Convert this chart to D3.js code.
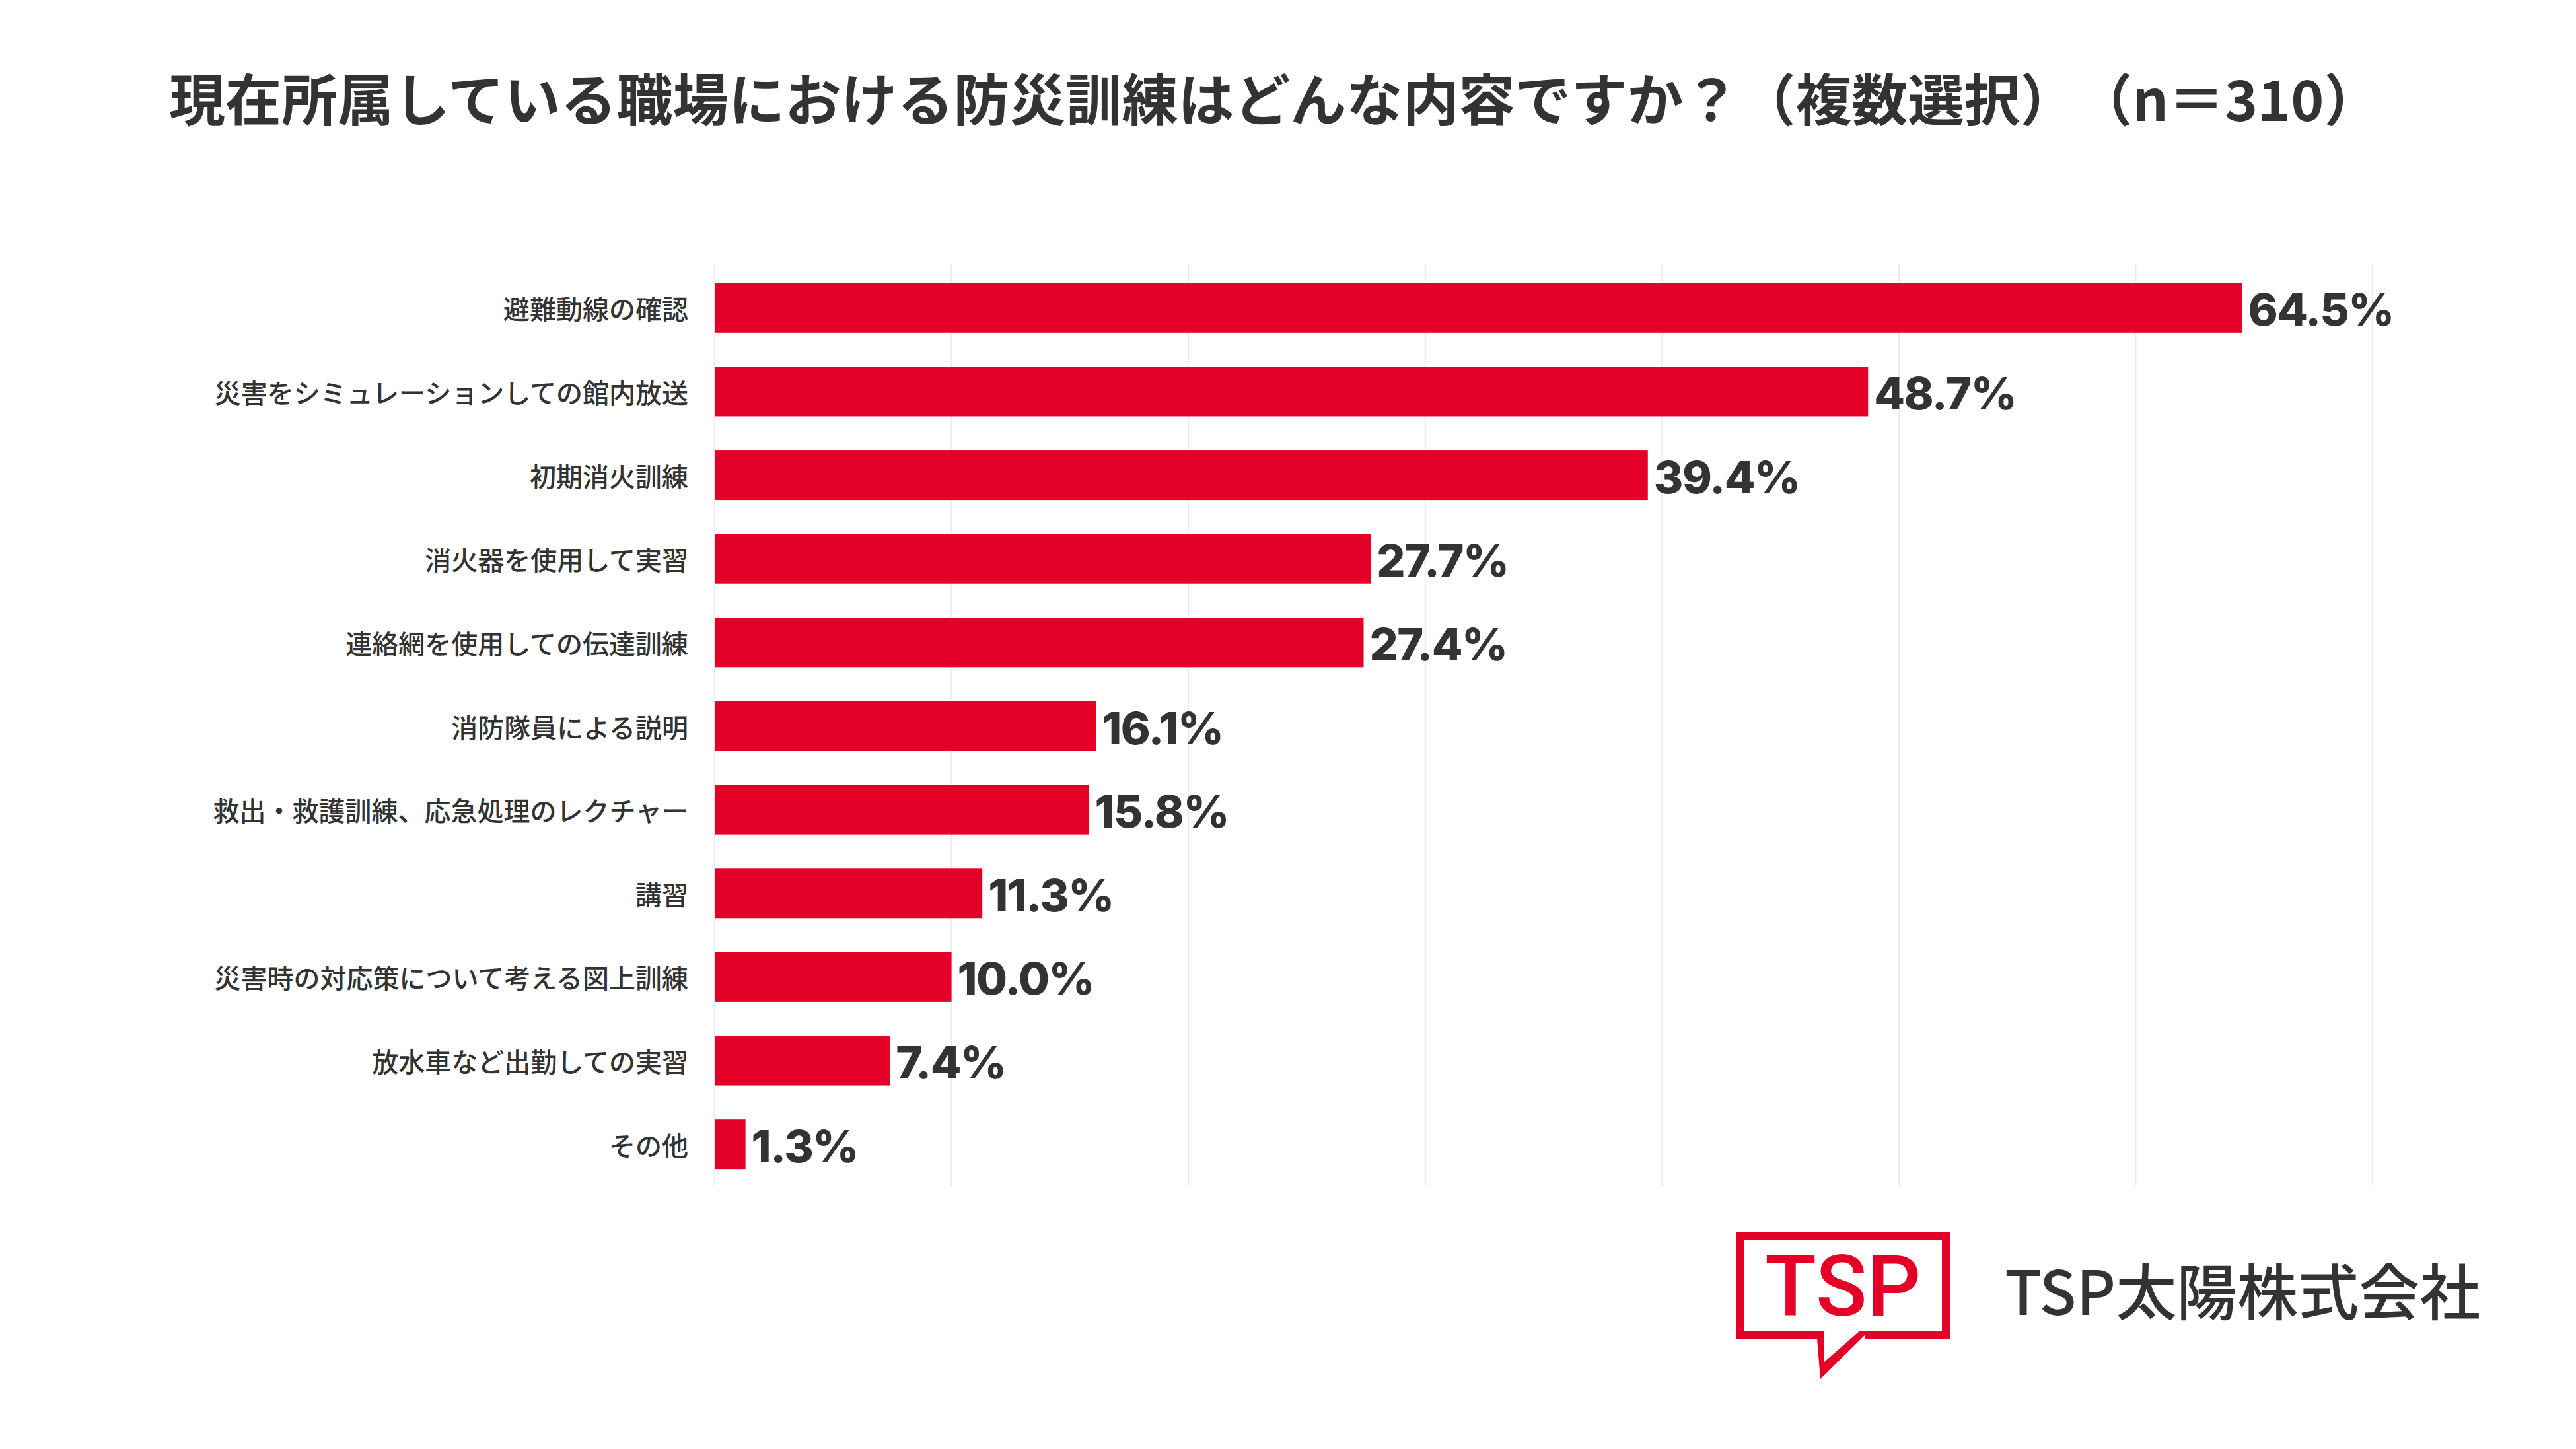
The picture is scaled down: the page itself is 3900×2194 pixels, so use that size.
<!DOCTYPE html>
<meta charset="utf-8">
<style>
body { margin: 0; background: #fff; }
</style>
<body>
<script src="https://cdn.jsdelivr.net/npm/d3@7"></script>
<script>

var categories = [
  "避難動線の確認",
  "災害をシミュレーションしての館内放送",
  "初期消火訓練",
  "消火器を使用して実習",
  "連絡網を使用しての伝達訓練",
  "消防隊員による説明",
  "救出・救護訓練、応急処理のレクチャー",
  "講習",
  "災害時の対応策について考える図上訓練",
  "放水車など出勤しての実習",
  "その他"
];
var values = [64.5, 48.7, 39.4, 27.7, 27.4, 16.1, 15.8, 11.3, 10.0, 7.4, 1.3];
var gridTicks = [0, 10, 20, 30, 40, 50, 60, 70];
var title = "現在所属している職場における防災訓練はどんな内容ですか？（複数選択）　（n＝310）";

var W = 3900, H = 2194,
    red = "#e50027",
    ink = "#333333";

var svg = d3.select("body").append("svg")
    .attr("width", W)
    .attr("height", H);

svg.append("rect").attr("width", W).attr("height", H).attr("fill", "#fff");

var x = d3.scaleLinear().domain([0, 70]).range([1082, 3592]);
var y = d3.scaleBand()
    .domain(categories)
    .range([403, 1796])
    .paddingInner(0.408)
    .paddingOuter(0.204);

// title
svg.append("text")
    .attr("x", 256)
    .attr("y", 145)
    .attr("dominant-baseline", "central")
    .style("font-family", "'Noto Sans CJK JP', sans-serif")
    .style("font-weight", 700)
    .style("font-size", "85px")
    .style("fill", ink)
    .text(title);

// grid
svg.append("g")
  .selectAll("line")
    .data(gridTicks)
  .enter().append("line")
    .attr("x1", x).attr("x2", x)
    .attr("y1", 400).attr("y2", 1796)
    .attr("stroke", "#ebebeb")
    .attr("stroke-width", 2);

// bars
svg.append("g")
  .selectAll("rect")
    .data(values)
  .enter().append("rect")
    .attr("x", x(0))
    .attr("y", function(d, i) { return y(categories[i]); })
    .attr("width", function(d) { return x(d) - x(0); })
    .attr("height", y.bandwidth())
    .attr("fill", red);

// category labels
svg.append("g")
  .selectAll("text")
    .data(categories)
  .enter().append("text")
    .attr("x", 1042)
    .attr("y", function(d) { return y(d) + y.bandwidth() / 2; })
    .attr("text-anchor", "end")
    .attr("dominant-baseline", "central")
    .style("font-family", "'Noto Sans CJK JP', sans-serif")
    .style("font-weight", 500)
    .style("font-size", "40px")
    .style("fill", ink)
    .text(function(d) { return d; });

// value labels
var fmt = d3.format(".1f");
svg.append("g")
  .selectAll("text")
    .data(values)
  .enter().append("text")
    .attr("x", function(d) { return x(d) + 9; })
    .attr("y", function(d, i) { return y(categories[i]) + y.bandwidth() / 2 + 2; })
    .attr("dominant-baseline", "central")
    .style("font-family", "Inter, sans-serif")
    .style("font-weight", 800)
    .style("font-size", "68px")
    .style("letter-spacing", "-1.5px")
    .style("fill", ink)
    .text(function(d) { return fmt(d) + "%"; });

// logo
var logo = svg.append("g");
logo.append("path")
    .attr("d", "M2756,2021 H2635 V1871 H2946 V2021 H2823")
    .attr("fill", "none")
    .attr("stroke", red)
    .attr("stroke-width", 12)
    .attr("stroke-linejoin", "miter");
logo.append("path")
    .attr("d", "M2750,2015 L2762,2015 L2762,2062 L2816,2015 L2830,2015 L2756,2088 Z")
    .attr("fill", red);
logo.append("text")
    .attr("x", 2790)
    .attr("y", 1992)
    .attr("text-anchor", "middle")
    .style("font-family", "Roboto, sans-serif")
    .style("font-weight", 500)
    .style("font-size", "128px")
    .style("fill", red)
    .text("TSP");
logo.append("text")
    .attr("x", 3035)
    .attr("y", 1950)
    .attr("dominant-baseline", "central")
    .style("font-family", "'Noto Sans CJK JP', sans-serif")
    .style("font-weight", 500)
    .style("font-size", "92px")
    .style("fill", ink)
    .text("TSP太陽株式会社");

</script>
</body>
